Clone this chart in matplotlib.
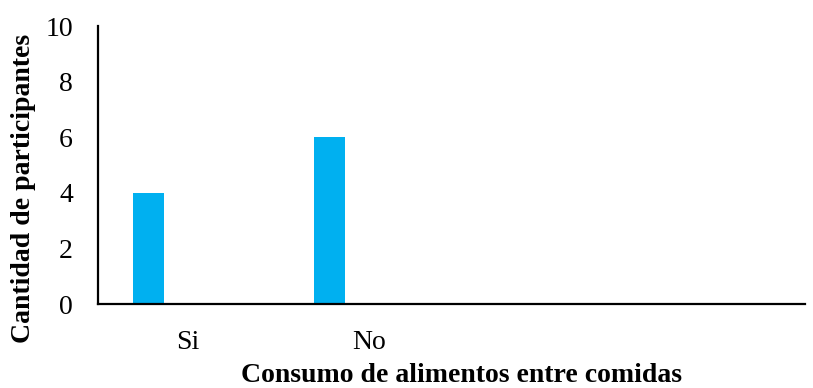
import matplotlib
matplotlib.use("Agg")
import matplotlib.pyplot as plt
import numpy as np

# Data
categories = ["Si", "No"]
values = [4, 6]
y_ticks = [0, 2, 4, 6, 8, 10]
bar_color = "#00B0F0"

plt.rcParams["font.family"] = ["Liberation Serif", "DejaVu Serif"]

fig = plt.figure(figsize=(8.13, 3.88), dpi=100)
ax = fig.add_axes([98 / 813, 1 - 304 / 388, (805 - 98) / 813, (304 - 26) / 388])

x = np.arange(len(values))
bar_width = 0.171
offset = -0.218
ax.bar(x + offset, values, width=bar_width, color=bar_color, zorder=2)

ax.set_xlim(-0.496, 3.399)
ax.set_ylim(0, 10)
ax.set_yticks(y_ticks)
ax.set_yticklabels([str(t) for t in y_ticks], fontsize=20)
ax.set_xticks(x)
ax.set_xticklabels(categories, fontsize=20)
ax.tick_params(axis="both", length=0)
ax.tick_params(axis="x", pad=19)
ax.tick_params(axis="y", pad=18)

for side in ["top", "right"]:
    ax.spines[side].set_visible(False)
for side in ["left", "bottom"]:
    ax.spines[side].set_linewidth(1.6)
    ax.spines[side].set_color("black")

ax.set_xlabel("Consumo de alimentos entre comidas", fontsize=20, fontweight="bold")
ax.set_ylabel("Cantidad de participantes", fontsize=20, fontweight="bold")
ax.xaxis.set_label_coords((461 - 98) / 707, -(376 - 304) / 278)
ax.yaxis.set_label_coords(-(98 - 24) / 707, (304 - 188) / 278)
ax.xaxis.label.set_va("center")
ax.yaxis.label.set_va("center")

fig.savefig("out.png", dpi=100)
